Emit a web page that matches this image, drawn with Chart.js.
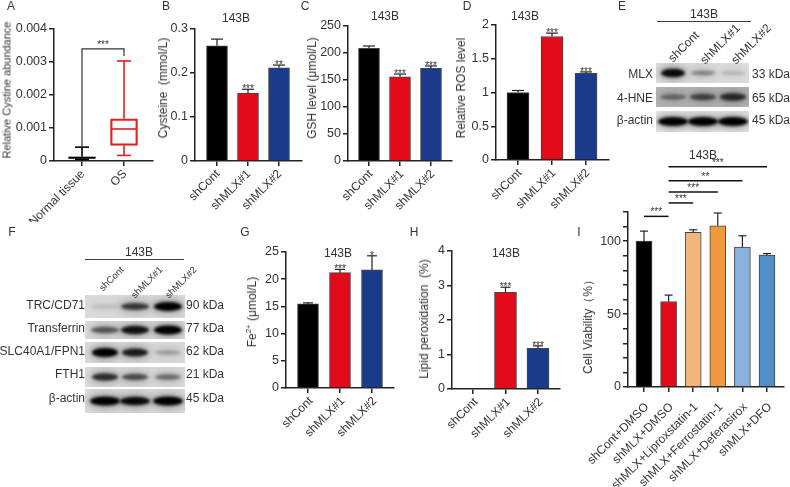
<!DOCTYPE html>
<html lang="en">

<head>
    <meta charset="UTF-8">
    <title>MLX knockdown panels</title>
    <style>
        body {
            margin: 0;
            padding: 0;
            background: #fff;
        }

        #page {
            position: relative;
            width: 790px;
            height: 487px;
            overflow: hidden;
            font-family: "Liberation Sans", Arial, sans-serif;
            color: #333;
        }

        #page canvas {
            position: absolute;
        }

        .lbl {
            position: absolute;
            white-space: pre;
            line-height: 1;
        }

        .lbl sup {
            font-size: 0.65em;
            line-height: 0;
        }
    </style>
</head>

<body>
    <div id="page"><canvas id="blots" width="790" height="487" style="left:0;top:0"></canvas></div>

    <script src="https://cdn.jsdelivr.net/npm/chart.js"></script>
    <script>
        // categories
        const knockdownCats = ['shCont', 'shMLX#1', 'shMLX#2'];
        const tissueCats = ['Normal tissue', 'OS'];
        const rescueCats = ['shCont+DMSO', 'shMLX+DMSO', 'shMLX+Liproxstatin-1', 'shMLX+Ferrostatin-1', 'shMLX+Deferasirox', 'shMLX+DFO'];

        // A: box plot readings
        const boxLow = [0.00005, 0.00017];
        const boxQ1 = [0.00008, 0.00047];
        const boxMedian = [0.0001, 0.00097];
        const boxQ3 = [0.00013, 0.00128];
        const boxHigh = [0.00042, 0.00303];

        // bar heights, error bar tops, stars
        const cysteine = [0.262, 0.1545, 0.212];
        const cysteineErr = [0.277, 0.163, 0.218];
        const cysteineStars = ['', '***', '**'];
        const gsh = [208.7, 156, 171.6];
        const gshErr = [213, 161, 176];
        const gshStars = ['', '***', '***'];
        const ros = [1.0, 1.83, 1.285];
        const rosErr = [1.03, 1.88, 1.305];
        const rosStars = ['', '***', '***'];
        const iron = [15.45, 21.2, 21.7];
        const ironErr = [15.65, 21.8, 24.3];
        const ironStars = ['', '***', '*'];
        const lipid = [0, 2.8, 1.18];
        const lipidErr = [0, 2.95, 1.25];
        const lipidStars = ['', '***', '***'];
        const viability = [100, 58.6, 106, 110.5, 95.9, 90.4];
        const viabilityErr = [106.9, 63, 107.8, 119.3, 103.7, 91.5];

        // I: significance lines [from, to, level, stars]
        const viabilitySig = [
            [0, 1, 117, '***'],
            [1, 2, 126.2, '***'],
            [1, 3, 133.8, '***'],
            [1, 4, 141.4, '**'],
            [1, 5, 151, '***']
        ];

        // tick labels
        const ticksA = [0, 0.001, 0.002, 0.003, 0.004];
        const ticksB = [0, 0.1, 0.2, 0.3];
        const ticksC = [0, 50, 100, 150, 200, 250];
        const ticksD = [0, 0.5, 1, 1.5, 2];
        const ticksG = [0, 5, 10, 15, 20, 25];
        const ticksH = [0, 1, 2, 3, 4];
        const ticksI = [0, 10, 20, 30, 40, 50, 60, 70, 80, 90, 100, 110, 120];
        const labelledI = [0, 50, 100];

        // blot rows: name, size, band darkness per lane
        const blotNamesE = ['MLX', '4-HNE', 'β-actin'];
        const blotSizesE = ['33 kDa', '65 kDa', '45 kDa'];
        const blotDarkE = [[0.95, 0.35, 0.15], [0.4, 0.6, 0.75], [1, 1, 1]];
        const blotNamesF = ['TRC/CD71', 'Transferrin', 'SLC40A1/FPN1', 'FTH1', 'β-actin'];
        const blotSizesF = ['90 kDa', '77 kDa', '62 kDa', '21 kDa', '45 kDa'];
        const blotDarkF = [[0.12, 0.7, 1], [0.55, 0.9, 1], [1, 0.85, 0.25], [0.75, 0.6, 0.45], [1, 0.95, 1]];

        const BLACK = '#000000', RED = '#e30a1a', BLUE = '#1a3a8c';
        const FONT = '"Liberation Sans", Arial, sans-serif';
        const INK = '#222';
        const page = document.getElementById('page');

        // plain text placed on the page
        function txt(html, x, y, opt = {}) {
            const el = document.createElement('span');
            el.className = 'lbl';
            el.innerHTML = html;
            const shift = opt.anchor === 'end' ? '-100%' : opt.anchor === 'start' ? '0' : '-50%';
            const origin = opt.anchor === 'end' ? '100% 50%' : opt.anchor === 'start' ? '0 50%' : '50% 50%';
            el.style.left = x + 'px';
            el.style.top = y + 'px';
            el.style.fontSize = (opt.size || 12) + 'px';
            el.style.transformOrigin = origin;
            el.style.transform = `translate(${shift},-50%) rotate(${opt.rot || 0}deg)`;
            page.appendChild(el);
        }

        // error bars, stars, brackets and whiskers, all through the chart scales
        const marks = {
            id: 'marks',
            afterDatasetsDraw(chart, args, o) {
                const { ctx, scales: { x, y } } = chart;
                ctx.save();
                ctx.strokeStyle = '#222';
                ctx.lineWidth = 1.2;
                const seg = (x0, y0, x1, y1) => {
                    ctx.beginPath(); ctx.moveTo(x0, y0); ctx.lineTo(x1, y1); ctx.stroke();
                };
                const stars = (s, px, py) => {
                    ctx.fillStyle = '#333';
                    ctx.font = '10px ' + FONT;
                    ctx.textAlign = 'center';
                    ctx.textBaseline = 'alphabetic';
                    ctx.fillText(s, px, py);
                };
                (o.tops || []).forEach((top, i) => {
                    if (top <= o.vals[i]) return;
                    const px = x.getPixelForValue(i);
                    seg(px, y.getPixelForValue(o.vals[i]), px, y.getPixelForValue(top));
                    seg(px - o.cap, y.getPixelForValue(top), px + o.cap, y.getPixelForValue(top));
                    if (o.stars && o.stars[i]) stars(o.stars[i], px, y.getPixelForValue(top) + 3);
                });
                (o.sig || []).forEach(([a, b, level, s]) => {
                    const py = y.getPixelForValue(level);
                    ctx.lineWidth = 1.5;
                    ctx.strokeStyle = '#111';
                    seg(x.getPixelForValue(a), py, x.getPixelForValue(b), py);
                    stars(s, (x.getPixelForValue(a) + x.getPixelForValue(b)) / 2, py - 1);
                });
                if (o.box) {
                    boxLow.forEach((low, i) => {
                        const px = x.getPixelForValue(i);
                        ctx.strokeStyle = o.box[i];
                        ctx.lineWidth = 1.6;
                        seg(px, y.getPixelForValue(low), px, y.getPixelForValue(boxQ1[i]));
                        seg(px, y.getPixelForValue(boxQ3[i]), px, y.getPixelForValue(boxHigh[i]));
                        seg(px - 7, y.getPixelForValue(low), px + 7, y.getPixelForValue(low));
                        seg(px - 7, y.getPixelForValue(boxHigh[i]), px + 7, y.getPixelForValue(boxHigh[i]));
                        seg(px - 13, y.getPixelForValue(boxMedian[i]), px + 13, y.getPixelForValue(boxMedian[i]));
                    });
                    // bracket from whisker to whisker
                    const x0 = x.getPixelForValue(0), x1 = x.getPixelForValue(1), top = y.getPixelForValue(o.bracket);
                    ctx.strokeStyle = '#333';
                    ctx.lineWidth = 1.2;
                    ctx.beginPath();
                    ctx.moveTo(x0, y.getPixelForValue(boxHigh[0]));
                    ctx.lineTo(x0, top);
                    ctx.lineTo(x1, top);
                    ctx.lineTo(x1, y.getPixelForValue(o.bracketEnd));
                    ctx.stroke();
                    stars('***', (x0 + x1) / 2, top - 1);
                }
                ctx.restore();
            }
        };

        // one chart per panel; plot box is pinned to the pixels of the figure
        function panel(id, cfg) {
            const headroom = cfg.headroom || 30;
            const left = cfg.xL - 62, top = cfg.yTop - headroom;
            const width = cfg.xR + 4 - left, height = cfg.bottom - top;
            const canvas = document.createElement('canvas');
            canvas.id = id;
            canvas.width = width;
            canvas.height = height;
            canvas.style.left = left + 'px';
            canvas.style.top = top + 'px';
            page.appendChild(canvas);

            const step = cfg.step;
            return new Chart(canvas.getContext('2d'), {
                type: 'bar',
                data: {
                    labels: cfg.cats,
                    datasets: [{
                        data: cfg.points,
                        backgroundColor: cfg.colors,
                        borderColor: cfg.borders || '#444',
                        borderWidth: cfg.borderWidth || 1,
                        borderSkipped: cfg.borderSkipped === undefined ? 'start' : cfg.borderSkipped,
                        barThickness: cfg.barW
                    }]
                },
                options: {
                    responsive: false,
                    animation: false,
                    devicePixelRatio: 1,
                    layout: { padding: { top: headroom, right: 4, left: 0, bottom: 0 } },
                    plugins: {
                        legend: { display: false },
                        tooltip: { enabled: false },
                        marks: cfg.marks
                    },
                    scales: {
                        x: {
                            type: 'linear',
                            offset: false,
                            min: (cfg.xL - cfg.first) / step,
                            max: (cfg.xR - cfg.first) / step,
                            afterBuildTicks: s => { s.ticks = cfg.cats.map((c, i) => ({ value: i })); },
                            afterFit: s => {
                                s.height = cfg.bottom - cfg.yBase;
                                s.paddingLeft = s.paddingRight = s.paddingTop = s.paddingBottom = 0;
                            },
                            border: { display: true, color: INK, width: 1.5 },
                            grid: { offset: false, drawOnChartArea: false, tickLength: 5, color: INK, lineWidth: 1.5 },
                            ticks: {
                                autoSkip: false, minRotation: 45, maxRotation: 45,
                                padding: cfg.labelPad || 1, labelOffset: cfg.labelShift || 2,
                                color: '#333', font: { family: FONT, size: 12 },
                                callback: v => cfg.cats[v]
                            }
                        },
                        y: {
                            min: 0,
                            max: cfg.ticks[cfg.ticks.length - 1],
                            afterBuildTicks: s => { s.ticks = cfg.ticks.map(v => ({ value: v })); },
                            afterFit: s => { s.width = cfg.xL - left; },
                            border: { display: true, color: INK, width: 1.5 },
                            grid: { drawOnChartArea: false, tickLength: 5, color: INK, lineWidth: 1.5 },
                            ticks: {
                                autoSkip: false, padding: 2,
                                color: '#333', font: { family: FONT, size: 12.5 },
                                callback: v => (!cfg.labelled || cfg.labelled.includes(v)) ? String(v) : ''
                            }
                        }
                    }
                },
                plugins: [marks]
            });
        }

        const toPoints = vals => vals.map((v, i) => ({ x: i, y: v }));

        panel('panelA', {
            xL: 54, xR: 153, yTop: 29, yBase: 161, bottom: 222, first: 82, step: 42, barW: 27, labelShift: 1,
            cats: tissueCats, ticks: ticksA,
            points: boxQ1.map((q, i) => ({ x: i, y: [q, boxQ3[i]] })),
            colors: 'transparent', borders: [BLACK, '#e02020'], borderWidth: 1.6, borderSkipped: false,
            marks: { box: [BLACK, '#e02020'], bracket: 0.0034, bracketEnd: 0.00318 }
        });
        panel('panelB', {
            xL: 195, xR: 302, yTop: 29, yBase: 161, bottom: 222, first: 217, step: 31, barW: 21, labelShift: 1,
            cats: knockdownCats, ticks: ticksB, points: toPoints(cysteine), colors: [BLACK, RED, BLUE],
            marks: { vals: cysteine, tops: cysteineErr, stars: cysteineStars, cap: 6 }
        });
        panel('panelC', {
            xL: 348, xR: 452, yTop: 26, yBase: 161, bottom: 222, first: 369, step: 31, barW: 21,
            cats: knockdownCats, ticks: ticksC, points: toPoints(gsh), colors: [BLACK, RED, BLUE],
            marks: { vals: gsh, tops: gshErr, stars: gshStars, cap: 6 }
        });
        panel('panelD', {
            xL: 496, xR: 609, yTop: 25, yBase: 160, bottom: 222, first: 518, step: 34, barW: 22,
            cats: knockdownCats, ticks: ticksD, points: toPoints(ros), colors: [BLACK, RED, BLUE],
            marks: { vals: ros, tops: rosErr, stars: rosStars, cap: 6 }
        });
        panel('panelG', {
            xL: 286, xR: 394, yTop: 252, yBase: 388, bottom: 450, first: 308, step: 32, barW: 21, labelShift: 3,
            cats: knockdownCats, ticks: ticksG, points: toPoints(iron), colors: [BLACK, RED, BLUE],
            marks: { vals: iron, tops: ironErr, stars: ironStars, cap: 5 }
        });
        panel('panelH', {
            xL: 452, xR: 560, yTop: 251, yBase: 389, bottom: 450, first: 473, step: 32.5, barW: 22, labelShift: 3,
            cats: knockdownCats, ticks: ticksH, points: toPoints(lipid), colors: [BLACK, RED, BLUE],
            marks: { vals: lipid, tops: lipidErr, stars: lipidStars, cap: 5 }
        });
        panel('panelI', {
            xL: 628, xR: 784, yTop: 212, yBase: 387, bottom: 487, first: 644, step: 24.6, barW: 16, headroom: 60,
            labelPad: 8, labelShift: 3,
            cats: rescueCats, ticks: ticksI, labelled: labelledI, points: toPoints(viability),
            colors: [BLACK, RED, '#f2b67c', '#ef9a3c', '#8ab0dc', '#4f8ec9'],
            marks: { vals: viability, tops: viabilityErr, cap: 4, sig: viabilitySig }
        });

        // panel letters
        [['A', 11, 6], ['B', 166, 6], ['C', 305, 6], ['D', 467, 6], ['E', 622, 6],
         ['F', 12, 232], ['G', 245, 232], ['H', 414, 232], ['I', 579, 232]].forEach(l => txt(l[0], l[1], l[2], { size: 12 }));

        // panel titles
        [[236, 18], [385, 16], [525, 16], [338, 253], [506, 253], [703, 155], [704, 14], [139, 252]]
            .forEach(p => txt('143B', p[0], p[1]));

        // y axis titles
        txt('Relative Cystine abundance', 7, 90, { rot: -90, size: 11 });
        txt('Cysteine  (mmol/L)', 163, 88, { rot: -90 });
        txt('GSH level (μmol/L)', 312, 88, { rot: -90 });
        txt('Relative ROS level', 461, 88, { rot: -90 });
        txt('Fe<sup>2+</sup> (μmol/L)', 252, 312, { rot: -90 });
        txt('Lipid peroxidation  (%)', 424, 319, { rot: -90 });
        txt('Cell Viability（%）', 588, 324, { rot: -90 });

        // western blots
        const blotCtx = document.getElementById('blots').getContext('2d');

        function blotRow(lanes, x0, x1, y0, y1, bg, dark, halfW) {
            const ctx = blotCtx;
            ctx.save();
            ctx.beginPath();
            ctx.rect(x0, y0, x1 - x0, y1 - y0);
            ctx.clip();
            ctx.fillStyle = bg;
            ctx.fillRect(x0, y0, x1 - x0, y1 - y0);
            const cy = (y0 + y1) / 2;
            // soft halo first, then the tight band
            ctx.filter = 'blur(4px)';
            dark.forEach((d, i) => {
                ctx.fillStyle = `rgba(0,0,0,${0.3 * d})`;
                ctx.beginPath();
                ctx.ellipse(lanes[i], cy, halfW + 2, 7, 0, 0, Math.PI * 2);
                ctx.fill();
            });
            ctx.filter = 'blur(1.5px)';
            dark.forEach((d, i) => {
                ctx.fillStyle = `rgba(0,0,0,${d})`;
                ctx.beginPath();
                ctx.ellipse(lanes[i], cy, halfW, 1.5 + 3 * d, 0, 0, Math.PI * 2);
                ctx.fill();
            });
            ctx.restore();
        }

        const lanesE = [673, 703, 733];
        const rowsE = [[63, 83, 74, '#dcdcdc', 12], [87, 107, 98, '#b4b4b4', 13], [111, 132, 120, '#e4e4e4', 15]];
        rowsE.forEach((r, i) => {
            blotRow(lanesE, 656, 749, r[0], r[1], r[3], blotDarkE[i], r[4]);
            txt(blotNamesE[i], 653, r[2], { anchor: 'end' });
            txt(blotSizesE[i], 752, r[2], { anchor: 'start' });
        });
        const lanesF = [105, 135, 168];
        const rowsF = [[295, 318, 305, 14], [321, 339, 328, 14], [342, 363, 351, 13], [367, 387, 374, 13], [389, 413, 398, 15]];
        rowsF.forEach((r, i) => {
            blotRow(lanesF, 85, 185, r[0], r[1], '#dadada', blotDarkF[i], r[3]);
            txt(blotNamesF[i], 85, r[2], { anchor: 'end' });
            txt(blotSizesF[i], 186, r[2], { anchor: 'start' });
        });

        // rules over the blots and lane names
        blotCtx.fillStyle = '#4a3a30';
        blotCtx.fillRect(657, 21, 94, 1);
        blotCtx.fillRect(85, 259, 99, 1);
        knockdownCats.forEach((c, i) => {
            txt(c, [697, 738, 769][i], [33, 26, 26][i], { anchor: 'end', rot: -45 });
            txt(c, [122, 161, 195][i], 268, { anchor: 'end', rot: -45, size: 9.5 });
        });
    </script>
</body>

</html>
